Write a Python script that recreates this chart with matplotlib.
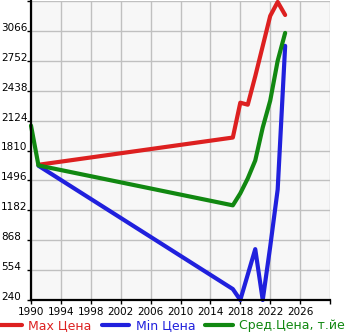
import matplotlib
matplotlib.use("Agg")
import matplotlib.pyplot as plt

# values
max_years = [1991, 2017, 2018, 2019, 2020, 2022, 2023, 2024]
max_price = [1660, 1946, 2312, 2291, 2590, 3223, 3370, 3233]

min_years = [1991, 2017, 2018, 2020, 2021, 2022, 2023, 2024]
min_price = [1650, 355, 240, 774, 240, 800, 1400, 2909]

avg_years = [1990, 1991, 2017, 2018, 2019, 2020, 2021, 2022, 2023, 2024]
avg_price = [2072, 1653, 1234, 1360, 1517, 1705, 2051, 2333, 2752, 3045]

x_ticks = list(range(1990, 2031, 4))
y_ticks = [240, 554, 868, 1182, 1496, 1810, 2124, 2438, 2752, 3066, 3380]

RED = "#dd2020"
BLUE = "#2020dd"
GREEN = "#118811"

fig = plt.figure(figsize=(3.45, 3.35), dpi=100)
ax = fig.add_axes([31 / 345, 35 / 335, 299 / 345, 299 / 335])
ax.set_facecolor("#f7f7f7")

kw = dict(linewidth=3, solid_capstyle="round", solid_joinstyle="round", clip_on=False)
ax.plot(max_years, max_price, color=RED, label="Max Цена", **kw)
ax.plot(min_years, min_price, color=BLUE, label="Min Цена", **kw)
ax.plot(avg_years, avg_price, color=GREEN, label="Сред.Цена, т.йен", **kw)

ax.set_xlim(1990, 2030)
ax.set_ylim(240, 3380)
ax.set_xticks(x_ticks)
ax.set_xticklabels([str(t) for t in x_ticks[:-1]] + [""])
ax.set_yticks(y_ticks)
ax.set_yticklabels([str(t) for t in y_ticks[:-1]] + [""])
ax.grid(True, color="#c0c0c0", linewidth=1)
ax.set_axisbelow(True)

for s in ("top", "right"):
    ax.spines[s].set_visible(False)
for s in ("left", "bottom"):
    ax.spines[s].set_linewidth(1.6)
    ax.spines[s].set_color("black")

ax.tick_params(axis="x", length=3, width=1, labelsize=7.5, pad=2)
ax.tick_params(axis="y", length=3, width=1, labelsize=7.5, pad=18.5)
for lab in ax.get_yticklabels():
    lab.set_horizontalalignment("left")
    lab.set_verticalalignment("baseline")

fig.legend(loc="center left", bbox_to_anchor=(-0.03, 0.027), ncol=3, frameon=False,
           fontsize=9, labelcolor="linecolor", handlelength=2.2, handletextpad=0.5,
           columnspacing=0.8, borderaxespad=0)

fig.savefig("out.png", dpi=100)
